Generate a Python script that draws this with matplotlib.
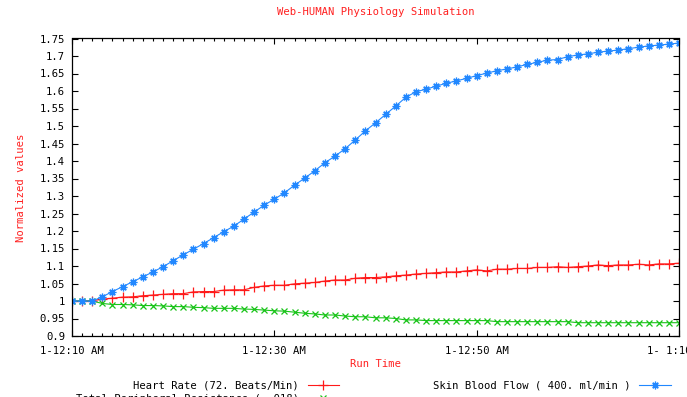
import numpy as np
import matplotlib
matplotlib.use('Agg')
import matplotlib.pyplot as plt

# run time in minutes after 1-12:10 AM, one sample per minute
minutes = np.arange(0, 61)

heart_rate = [1.0, 1.0, 1.001, 1.005, 1.008, 1.011, 1.012, 1.015, 1.017, 1.019,
              1.021, 1.021, 1.026, 1.027, 1.027, 1.031, 1.032, 1.032, 1.039, 1.043,
              1.045, 1.045, 1.049, 1.051, 1.053, 1.057, 1.060, 1.060, 1.065, 1.067,
              1.067, 1.069, 1.072, 1.074, 1.077, 1.079, 1.081, 1.083, 1.083, 1.086,
              1.089, 1.086, 1.091, 1.091, 1.093, 1.093, 1.096, 1.096, 1.098, 1.096,
              1.098, 1.100, 1.103, 1.101, 1.103, 1.103, 1.105, 1.103, 1.106, 1.106,
              1.108]

tpr = [1.0, 1.0, 1.0, 0.993, 0.990, 0.990, 0.989, 0.987, 0.987, 0.986,
       0.984, 0.984, 0.982, 0.981, 0.979, 0.979, 0.979, 0.977, 0.976, 0.974,
       0.972, 0.971, 0.968, 0.965, 0.963, 0.960, 0.960, 0.957, 0.955, 0.955,
       0.952, 0.952, 0.950, 0.946, 0.946, 0.944, 0.944, 0.944, 0.944, 0.944,
       0.944, 0.944, 0.941, 0.941, 0.941, 0.941, 0.941, 0.941, 0.941, 0.941,
       0.938, 0.938, 0.938, 0.938, 0.938, 0.938, 0.938, 0.938, 0.938, 0.938,
       0.938]

skin_flow = [1.0, 1.0, 1.0, 1.012, 1.027, 1.041, 1.055, 1.069, 1.083, 1.098,
             1.115, 1.132, 1.148, 1.164, 1.181, 1.198, 1.214, 1.234, 1.254, 1.274,
             1.291, 1.309, 1.331, 1.351, 1.372, 1.395, 1.414, 1.435, 1.460, 1.486,
             1.509, 1.533, 1.557, 1.582, 1.598, 1.605, 1.614, 1.622, 1.629, 1.636,
             1.644, 1.651, 1.658, 1.663, 1.669, 1.676, 1.682, 1.688, 1.690, 1.698,
             1.703, 1.706, 1.711, 1.714, 1.717, 1.721, 1.725, 1.729, 1.731, 1.734,
             1.737]

series_labels = ['Heart Rate (72. Beats/Min)',
                 'Total Peripheral Resistance ( .018)',
                 'Skin Blood Flow ( 400. ml/min )']
xtick_pos = [0, 20, 40, 60]
xtick_labels = ['1-12:10 AM', '1-12:30 AM', '1-12:50 AM', '1- 1:10 AM']

plt.rcParams['font.family'] = ['DejaVu Sans Mono']
fs = 7.6

W, H = 687, 397
fig = plt.figure(figsize=(W / 100, H / 100), dpi=100)
ax = fig.add_axes([72 / W, (H - 336) / H, (679 - 72) / W, (336 - 38.5) / H])

ax.plot(minutes, heart_rate, color='#ff1a1a', lw=0.8, marker='+', ms=6.5, mew=0.9,
        label=series_labels[0])
ax.plot(minutes, tpr, color='#19c419', lw=0.8, marker='x', ms=4.5, mew=0.9,
        label=series_labels[1])
ax.plot(minutes, skin_flow, color='#2288ff', lw=0.8, marker=(8, 2, 0), ms=5.5, mew=0.9,
        label=series_labels[2])

ax.set_xlim(0, 60)
ax.set_ylim(0.9, 1.75)
ax.set_yticks(np.arange(0.9, 1.7501, 0.05))
ax.set_yticklabels(['%g' % round(v, 2) for v in np.arange(0.9, 1.7501, 0.05)])
ax.set_xticks(xtick_pos)
ax.set_xticklabels(xtick_labels)
ax.set_xticks(np.arange(0, 61, 1), minor=True)

ax.tick_params(axis='both', which='major', direction='in', length=4.5, width=0.8,
               top=True, right=True, labelsize=fs, colors='black')
ax.tick_params(axis='x', which='major', pad=7)
ax.tick_params(axis='y', which='major', pad=5)
ax.tick_params(axis='x', which='minor', direction='in', length=2.5, width=0.8,
               top=True)
for s in ax.spines.values():
    s.set_linewidth(0.9)

fig.text(376 / W, 1 - 12 / H, 'Web-HUMAN Physiology Simulation', color='#ff2020',
         fontsize=fs, ha='center', va='center')
fig.text(21 / W, 1 - 188 / H, 'Normalized values', color='#ff2020',
         fontsize=fs, ha='center', va='center', rotation=90)
fig.text(376 / W, 1 - 364 / H, 'Run Time', color='#ff2020',
         fontsize=fs, ha='center', va='center')

fig.legend(loc='upper left', bbox_to_anchor=(76 / W, 1 - 381 / H), ncol=2,
           markerfirst=False, frameon=False, fontsize=fs, handlelength=3.0,
           handletextpad=0.8, columnspacing=8.9, labelspacing=0.25,
           borderpad=0, borderaxespad=0)

fig.savefig('out.png', dpi=100)
